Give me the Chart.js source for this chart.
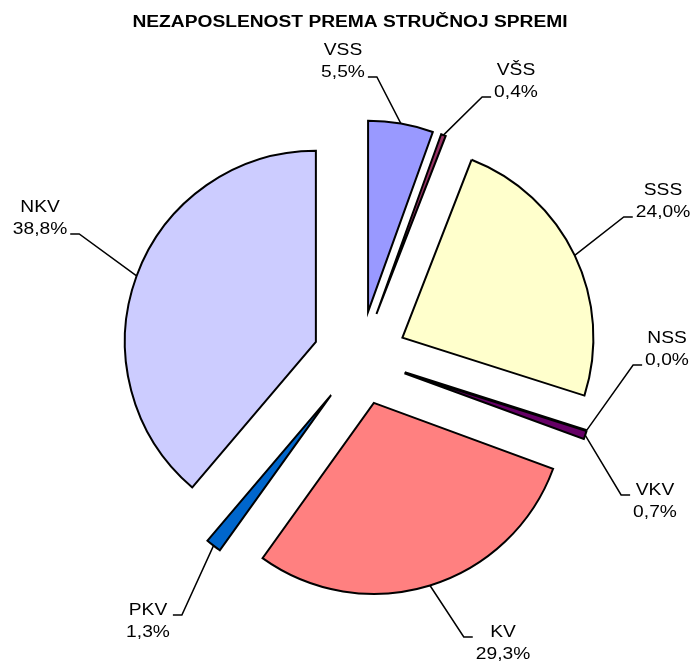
<!DOCTYPE html>
<html>
<head>
<meta charset="utf-8">
<title>Nezaposlenost prema stručnoj spremi</title>
<script src="https://cdn.jsdelivr.net/npm/chart.js@4.4.0/dist/chart.umd.min.js"></script>
<style>
  body { margin: 0; background: #fff; }
</style>
</head>
<body>
<canvas id="myChart" width="695" height="664"></canvas>
<script>
// data
const categories = ['VSS', 'VŠS', 'SSS', 'NSS', 'VKV', 'KV', 'PKV', 'NKV'];
const shares = [5.5, 0.4, 24.0, 0.0, 0.7, 29.3, 1.3, 38.8];
const sliceColors = ['#9999FF', '#993366', '#FFFFCC', '#CCFFFF', '#660066', '#FF8080', '#0066CC', '#CCCCFF'];

// label boxes: centre x and first baseline relative to the pie centre,
// and which text line the leader stub sits on
const labelPlace = [
  {dx: -17, dy: -303, line: 2},
  {dx: 156, dy: -283, line: 2},
  {dx: 303, dy: -163, line: 2},
  {dx: 307, dy: -15, line: 2},
  {dx: 295, dy: 137, line: 1},
  {dx: 143, dy: 279, line: 1},
  {dx: -212, dy: 257, line: 1},
  {dx: -320, dy: -146, line: 2}
];

const EXPLODE = 47;     // px every slice is pulled out
const RADIUS = 191;
const STRETCH = 1.2;    // text in the original is drawn wide
const LINE_GAP = 22;

function fmt(v) {
  return v.toFixed(1).replace('.', ',') + '%';
}

function wideText(ctx, text, x, y) {
  ctx.save();
  ctx.translate(x, y);
  ctx.scale(STRETCH, 1);
  ctx.fillText(text, 0, 0);
  ctx.restore();
}

// chart.js' own offset also grows the radius, so pull every slice out evenly here
const explode = {
  id: 'explode',
  afterDatasetsUpdate(chart) {
    chart.getDatasetMeta(0).data.forEach(arc => {
      const mid = (arc.startAngle + arc.endAngle) / 2;
      arc.cx0 = arc.cx0 === undefined ? arc.x : arc.cx0;
      arc.cy0 = arc.cy0 === undefined ? arc.y : arc.cy0;
      arc.x = arc.cx0 + Math.cos(mid) * EXPLODE;
      arc.y = arc.cy0 + Math.sin(mid) * EXPLODE;
    });
  }
};

const pieLabels = {
  id: 'pieLabels',
  afterDatasetsDraw(chart) {
    const ctx = chart.ctx;
    const meta = chart.getDatasetMeta(0);
    ctx.save();
    ctx.strokeStyle = '#000';
    ctx.fillStyle = '#000';
    ctx.textAlign = 'center';
    ctx.textBaseline = 'alphabetic';
    ctx.font = '16px "Liberation Sans", Arial, sans-serif';

    meta.data.forEach((arc, i) => {
      const c = arc.endAngle - arc.startAngle;
      const mid = (arc.startAngle + arc.endAngle) / 2;
      const r = arc.outerRadius;

      // zero slice: chart.js skips it, draw it as a single edge like the original
      if (c === 0) {
        ctx.lineWidth = 2;
        ctx.beginPath();
        ctx.moveTo(arc.x, arc.y);
        ctx.lineTo(arc.x + Math.cos(mid) * r, arc.y + Math.sin(mid) * r);
        ctx.stroke();
      }

      const ax = arc.x + Math.cos(mid) * r;
      const ay = arc.y + Math.sin(mid) * r;

      const place = labelPlace[i];
      const lines = [categories[i], fmt(shares[i])];
      const w = Math.max(...lines.map(t => ctx.measureText(t).width)) * STRETCH;
      const cx = arc.cx0 + place.dx;
      const b1 = arc.cy0 + place.dy;
      const sy = place.line === 1 ? b1 : b1 + LINE_GAP;
      const right = ax > cx;
      const edge = right ? cx + w / 2 + 3 : cx - w / 2 - 3;
      const stubEnd = right ? edge + 9 : edge - 9;

      ctx.lineWidth = 1.5;
      ctx.beginPath();
      ctx.moveTo(edge, sy);
      ctx.lineTo(stubEnd, sy);
      ctx.lineTo(ax, ay);
      ctx.stroke();

      lines.forEach((t, k) => wideText(ctx, t, cx, b1 + k * LINE_GAP));
    });

    // title
    ctx.font = 'bold 16px "Liberation Sans", Arial, sans-serif';
    wideText(ctx, 'NEZAPOSLENOST PREMA STRUČNOJ SPREMI', 350, 27);
    ctx.restore();
  }
};

const ctx = document.getElementById('myChart');
const myChart = new Chart(ctx, {
  type: 'pie',
  data: {
    labels: categories,
    datasets: [{
      data: shares,
      backgroundColor: sliceColors,
      borderColor: '#000',
      borderWidth: 2,
      borderJoinStyle: 'miter',
      hoverOffset: 0,
      radius: RADIUS,
      clip: false
    }]
  },
  options: {
    responsive: false,
    animation: false,
    events: [],
    layout: {
      padding: {left: 25, top: 52, right: 0, bottom: 0}
    },
    plugins: {
      legend: {display: false},
      tooltip: {enabled: false},
      title: {display: false}
    }
  },
  plugins: [explode, pieLabels]
});
</script>
</body>
</html>
